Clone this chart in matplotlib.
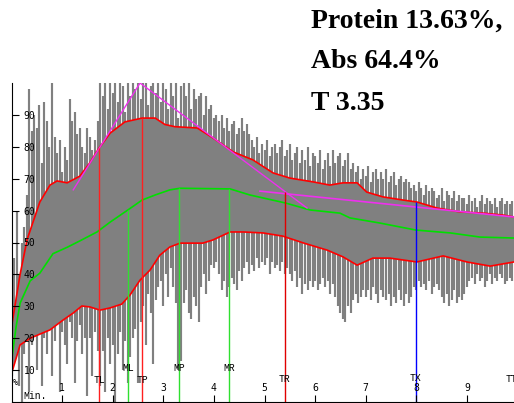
import matplotlib
matplotlib.use('Agg')
import matplotlib.pyplot as plt
import numpy as np

# time in minutes, values in %
upper_t = [0.01, 0.17, 0.31, 0.56, 0.76, 0.90, 1.10, 1.35, 1.55, 1.73, 1.95, 2.24, 2.58, 2.84,
           3.03, 3.23, 3.67, 3.98, 4.38, 4.77, 5.17, 5.50, 5.96, 6.29, 6.55, 6.83, 7.02, 7.34,
           7.74, 8.01, 8.41, 8.86, 9.32, 9.71, 9.93]
upper_v = [24.5, 40.0, 51.0, 62.7, 68.0, 69.3, 68.7, 70.8, 75.0, 79.6, 84.3, 87.8, 89.0, 89.0,
           87.0, 86.3, 85.9, 82.8, 78.4, 75.9, 71.8, 70.2, 69.0, 68.0, 68.7, 68.7, 65.8, 64.3,
           63.3, 62.7, 60.8, 59.6, 59.2, 58.6, 58.0]

mid_t = [0.01, 0.09, 0.17, 0.37, 0.56, 0.82, 1.10, 1.35, 1.69, 1.95, 2.30, 2.58, 2.84, 3.13,
         3.33, 4.32, 4.71, 5.41, 5.90, 6.49, 6.69, 7.28, 7.99, 8.67, 9.26, 9.93]
mid_v = [14.0, 23.5, 31.0, 38.0, 40.4, 46.5, 48.5, 50.5, 53.3, 56.4, 60.2, 63.3, 64.9, 66.5,
         67.0, 66.8, 64.9, 62.4, 60.2, 59.2, 57.7, 56.1, 53.9, 53.0, 51.7, 51.4]

lower_t = [0.01, 0.17, 0.37, 0.76, 1.02, 1.22, 1.39, 1.55, 1.75, 1.95, 2.18, 2.34, 2.54, 2.74,
           2.93, 3.13, 3.33, 3.78, 3.98, 4.32, 4.58, 4.97, 5.36, 5.78, 6.24, 6.55, 6.83, 7.14,
           7.48, 8.01, 8.53, 9.00, 9.46, 9.93]
lower_v = [9.4, 17.9, 20.0, 22.6, 25.7, 27.9, 30.1, 29.8, 28.8, 29.5, 30.7, 33.5, 38.2, 41.4,
           46.0, 48.6, 49.8, 49.8, 50.8, 53.3, 53.3, 53.0, 52.0, 49.8, 47.6, 45.5, 42.9, 45.1,
           45.1, 43.9, 45.8, 43.9, 42.6, 43.9]

# oscillation peaks / troughs, one every 0.05 min
spike_top = [35, 45, 60, 40, 50, 55, 65, 98, 85, 90,
             86, 93, 75, 94, 88, 80, 100, 83, 78, 82,
             72, 80, 76, 95, 88, 91, 84, 86, 80, 78,
             86, 83, 79, 82, 88, 100, 96, 100, 92, 100,
             97, 100, 94, 100, 99, 91, 100, 96, 100, 98,
             100, 95, 100, 100, 93, 99, 100, 97, 100, 94,
             100, 98, 92, 100, 96, 100, 89, 99, 100, 96,
             100, 92, 98, 95, 96, 97, 90, 96, 92, 93,
             89, 90, 88, 90, 86, 89, 85, 87, 88, 84,
             86, 89, 85, 87, 84, 82, 80, 83, 78, 81,
             79, 82, 77, 80, 81, 78, 80, 82, 77, 79,
             81, 76, 78, 80, 75, 79, 76, 80, 74, 78,
             77, 75, 79, 73, 76, 78, 74, 79, 75, 77,
             78, 74, 76, 78, 73, 75, 72, 74, 70, 73,
             71, 74, 69, 72, 73, 70, 72, 70, 73, 69,
             71, 72, 68, 70, 71, 69, 70, 69, 67, 68,
             66, 69, 67, 65, 68, 66, 67, 66, 64, 65,
             67, 63, 66, 65, 64, 66, 63, 65, 64, 64,
             62, 65, 63, 64, 61, 63, 65, 62, 64, 63,
             62, 64, 61, 63, 64, 62, 63, 62, 63, 62]
spike_bottom = [8, 12, 20, 5, 0, 15, 25, 3, 18, 22,
                10, 28, 5, 20, 15, 25, 8, 19, 25, 3,
                22, 18, 12, 25, 20, 6, 19, 24, 15, 20,
                2, 20, 8, 22, 16, 5, 16, 3, 20, 12,
                18, 0, 15, 22, 10, 19, 6, 14, 20, 23,
                6, 25, 30, 18, 34, 28, 12, 32, 36, 38,
                30, 40, 33, 42, 36, 31, 10, 13, 31, 35,
                28, 26, 33, 30, 25, 36, 40, 34, 38, 43,
                42, 44, 40, 35, 38, 33, 36, 39, 37, 35,
                41, 38, 42, 44, 40, 43, 41, 45, 42, 44,
                43, 45, 40, 44, 42, 43, 41, 44, 40, 42,
                40, 38, 41, 36, 39, 34, 37, 35, 38, 36,
                38, 35, 37, 39, 36, 38, 34, 37, 33, 30,
                28, 26, 25, 30, 28, 32, 34, 31, 33, 35,
                33, 35, 32, 36, 34, 31, 35, 33, 32, 34,
                30, 33, 31, 35, 32, 30, 34, 31, 33, 36,
                35, 38, 36, 37, 35, 38, 34, 36, 37, 35,
                33, 31, 34, 30, 32, 35, 31, 33, 32, 34,
                36, 38, 39, 37, 40, 38, 39, 36, 38, 40,
                37, 39, 38, 40, 39, 37, 38, 39, 38, 40]
spike_step = 0.05

# tangent lines
tangent1_t = [1.22, 2.54, 5.84]
tangent1_v = [66.5, 100.0, 60.8]
tangent2_t = [4.91, 9.93]
tangent2_v = [66.1, 58.0]

# markers: name, time, top of line, label level, colour
marker_names = ['TL', 'ML', 'TP', 'MP', 'MR', 'TR', 'TX', 'TT']
marker_t = [1.73, 2.30, 2.58, 3.31, 4.30, 5.40, 7.99, 9.76]
marker_top = [79.6, 60.2, 89.0, 67.0, 66.8, 65.8, 62.7, 0.0]
marker_lab = [6.9, 10.7, 6.9, 10.7, 10.7, 7.2, 7.4, 7.2]
marker_col = ['#ff2020', '#30e030', '#ff2020', '#30e030', '#30e030', '#e00000', '#0000ff', '#000000']

info = ['Protein 13.63%,', 'Abs 64.4%', 'T 3.35']

fig = plt.figure(figsize=(5.14, 4.03), dpi=100)
ax = fig.add_axes([11.5 / 514, 1 / 403, 502.5 / 514, 319 / 403])
ax.set_xlim(0, 9.93)
ax.set_ylim(0, 100)
ax.set_axisbelow(False)
for s in ['top', 'right']:
    ax.spines[s].set_visible(False)

# gray trace
ax.fill(np.r_[upper_t, lower_t[::-1]], np.r_[upper_v, lower_v[::-1]], color='#808080', lw=0)
spike_x = np.arange(len(spike_top)) * spike_step
ax.vlines(spike_x, spike_bottom, spike_top, color='#808080', lw=1.55)

ax.plot(upper_t, upper_v, color='#ff0000', lw=1.2)
ax.plot(lower_t, lower_v, color='#ff0000', lw=1.2)
ax.plot(mid_t, mid_v, color='#00e000', lw=1.2)
ax.plot(tangent1_t, tangent1_v, color='#ee30ee', lw=1.0)
ax.plot(tangent2_t, tangent2_v, color='#ee30ee', lw=1.2)

for name, t, top, lab, col in zip(marker_names, marker_t, marker_top, marker_lab, marker_col):
    if top > 0:
        ax.vlines(t, 0, top, color=col, lw=1.0)
        ax.text(t, lab, name, ha='center', va='center', fontfamily='Liberation Mono',
                fontsize=7, color='black')
    else:
        ax.text(t, lab, name, ha='left', va='center', fontfamily='Liberation Mono',
                fontsize=7, color='black', clip_on=True)

ax.set_xticks(range(1, 10))
ax.set_yticks(range(10, 100, 10))
ax.tick_params(axis='x', direction='in', length=5, pad=-14, labelsize=7)
ax.tick_params(axis='y', direction='in', length=5, pad=-17, labelsize=7)
for lbl in ax.get_xticklabels() + ax.get_yticklabels():
    lbl.set_fontfamily('DejaVu Sans Mono')

ax.text(0.07, 6, '%', ha='center', va='center', fontfamily='DejaVu Sans Mono', fontsize=6)
ax.text(0.46, 1.9, 'Min.', ha='center', va='center', fontfamily='Liberation Mono', fontsize=7)

for i, line in enumerate(info):
    fig.text(311 / 514, 1 - (21 + 41 * i) / 403, line, fontfamily='Liberation Serif',
             fontweight='bold', fontsize=20, va='center', ha='left')

fig.savefig('out.png', dpi=100)
